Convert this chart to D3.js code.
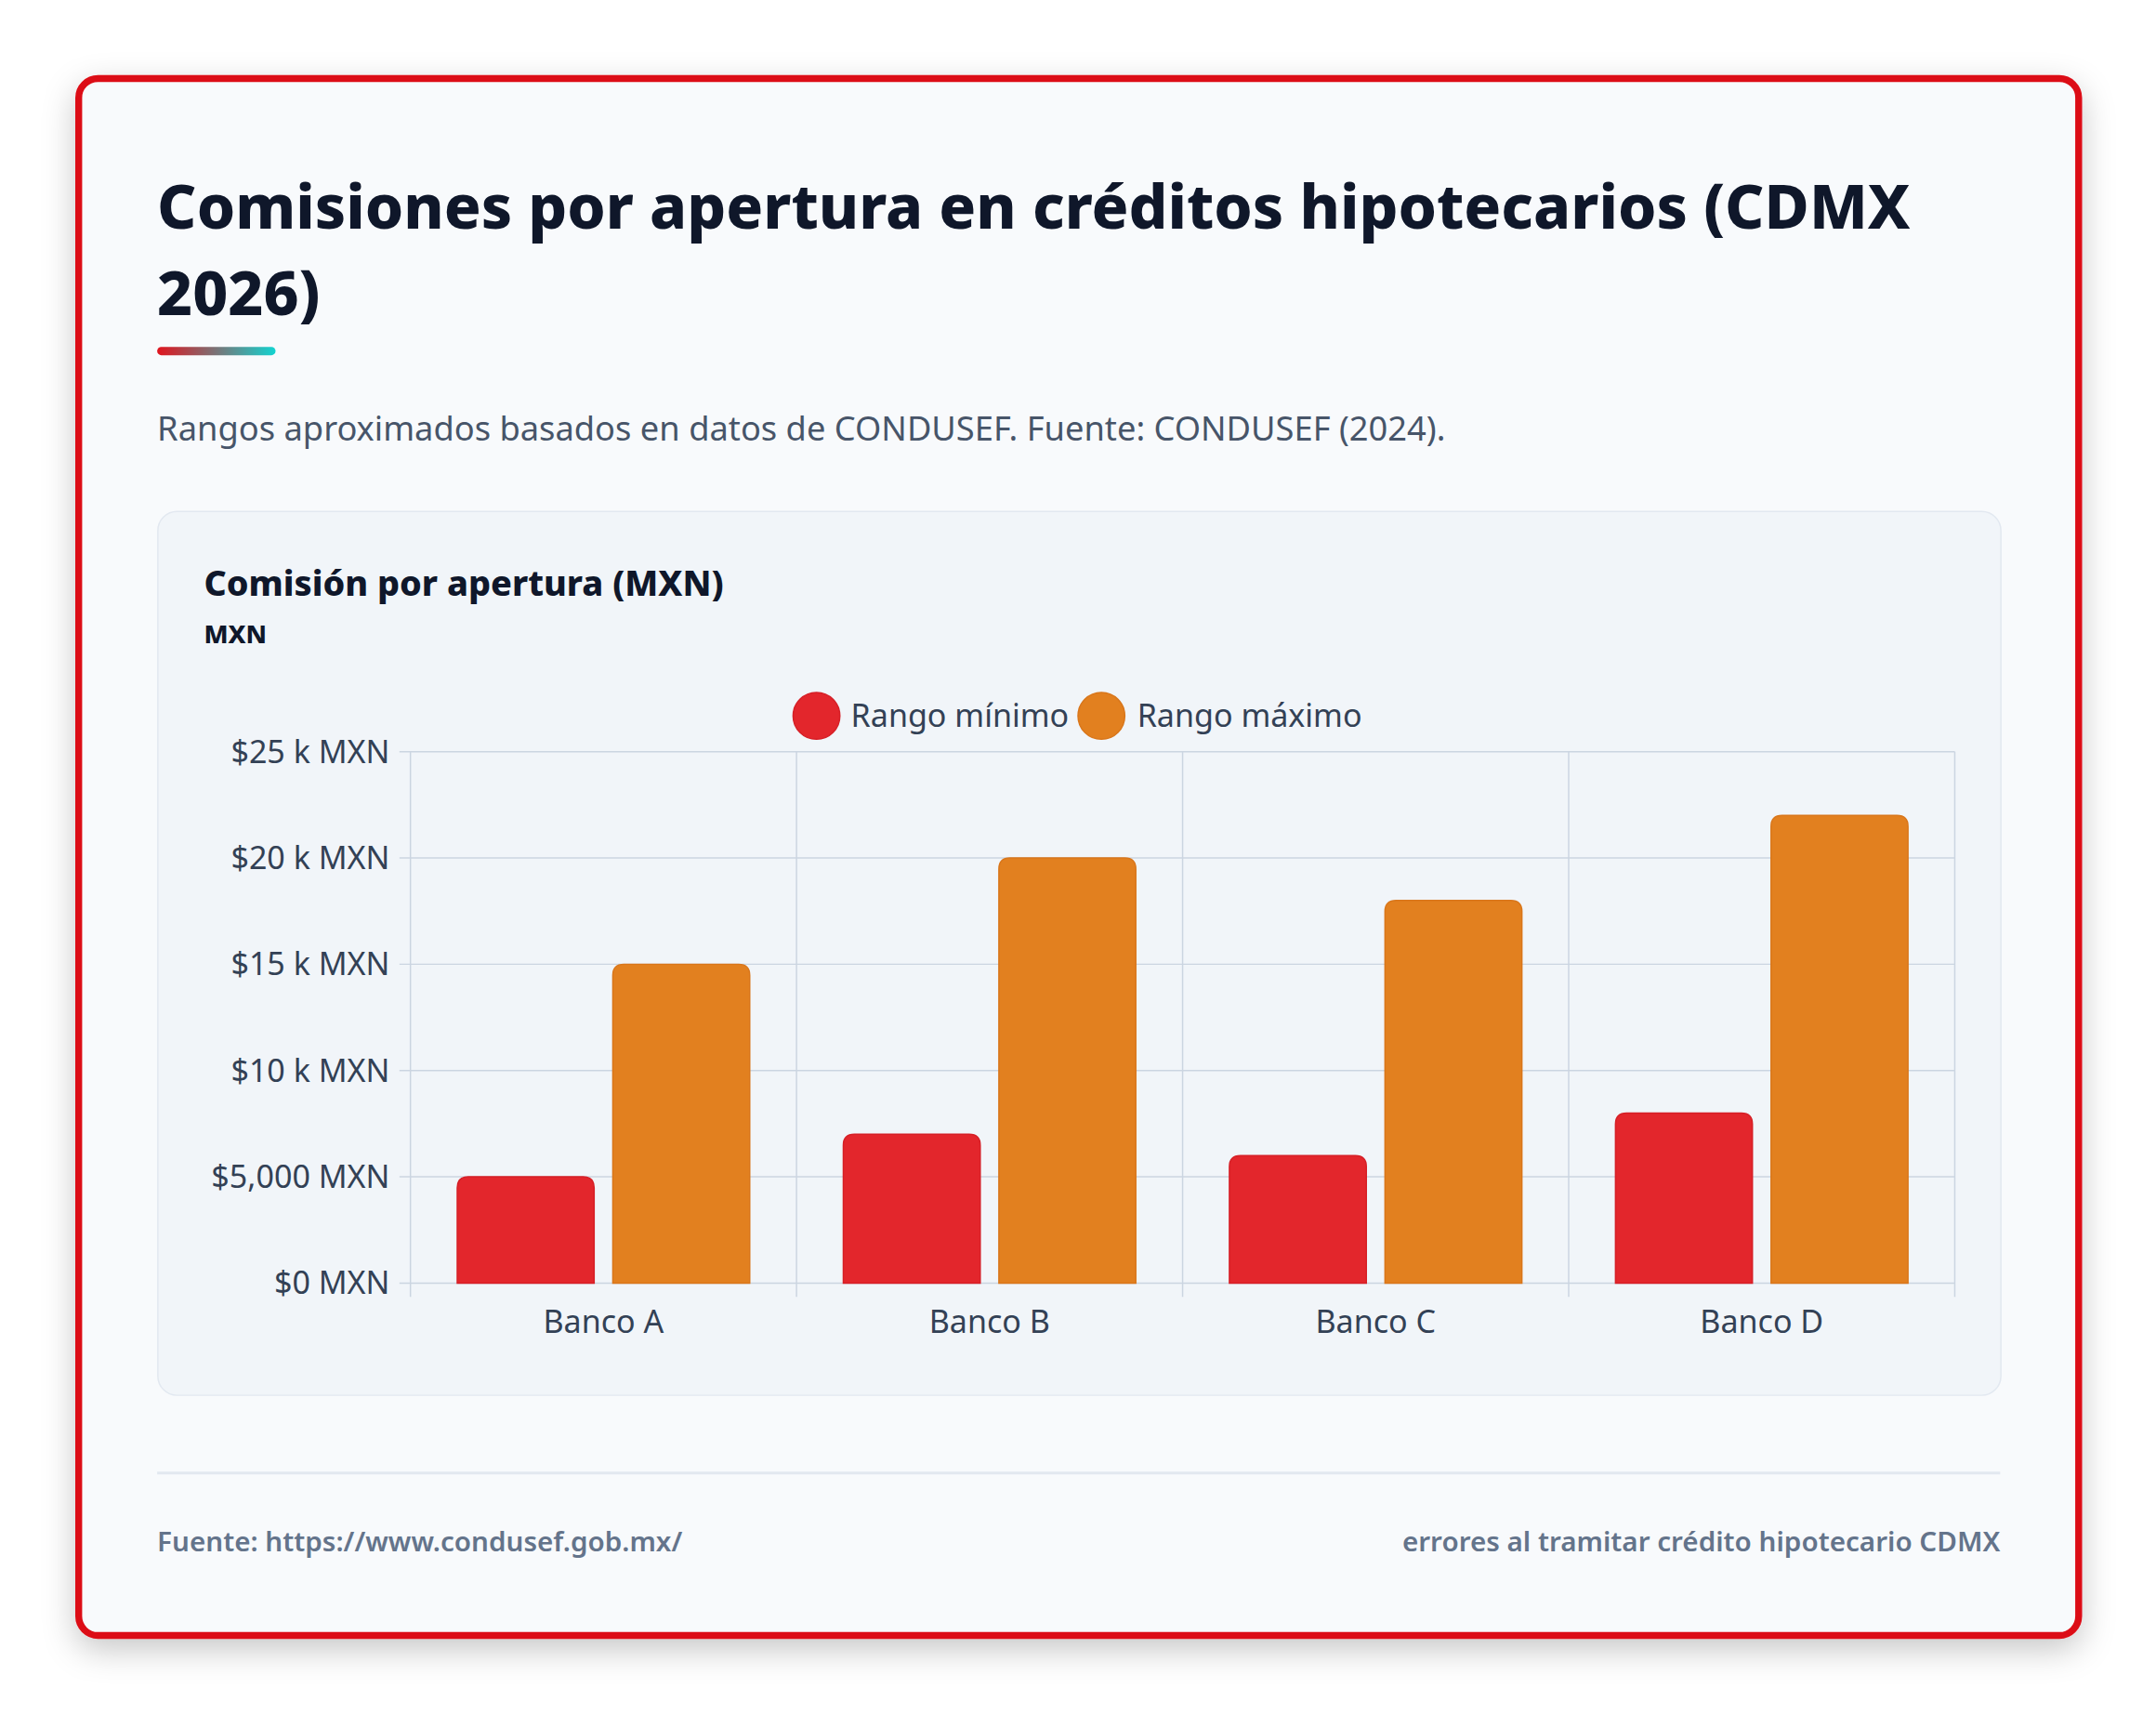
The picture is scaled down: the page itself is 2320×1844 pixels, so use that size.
<!DOCTYPE html>
<html><head><meta charset="utf-8">
<script src="https://cdn.jsdelivr.net/npm/d3@7"></script>
<style>html,body{margin:0;padding:0;background:#fff;}svg{display:block;font-family:"Noto Sans",sans-serif;}</style>
</head><body><svg id="c" width="2320" height="1844" viewBox="0 0 1566 1245"></svg>
<script>
const categories = ["Banco A","Banco B","Banco C","Banco D"];
const seriesNames = ["Rango mínimo","Rango máximo"];
const minValues = [5000,7000,6000,8000];
const maxValues = [15000,20000,18000,22000];
const yTicks = [0,5000,10000,15000,20000,25000];
const yTickLabels = ["$0 MXN","$5,000 MXN","$10 k MXN","$15 k MXN","$20 k MXN","$25 k MXN"];
const colors = ["#e3262c","#e2801f"];
const strokes = ["#d61f26","#d9761a"];

const svg = d3.select("#c");
const defs = svg.append("defs");
const f = defs.append("filter").attr("id","sh").attr("x","-10%").attr("y","-10%").attr("width","120%").attr("height","120%");
f.append("feDropShadow").attr("dx",0).attr("dy",8).attr("stdDeviation",12).attr("flood-color","#000").attr("flood-opacity",0.22);
const g = defs.append("linearGradient").attr("id","ug");
g.append("stop").attr("offset","0%").attr("stop-color","#e0141e");
g.append("stop").attr("offset","100%").attr("stop-color","#12d3d0");

svg.append("rect").attr("x",57).attr("y",57).attr("width",1453).attr("height",1131).attr("rx",14)
  .attr("fill","#f8fafc").attr("stroke","#dc0d15").attr("stroke-width",5).attr("filter","url(#sh)");
svg.append("text").attr("x",114).attr("y",166).attr("font-size",44.5).attr("font-weight",800).attr("fill","#0f172a").text("Comisiones por apertura en créditos hipotecarios (CDMX");
svg.append("text").attr("x",114).attr("y",229).attr("font-size",44.5).attr("font-weight",800).attr("fill","#0f172a").text("2026)");
svg.append("rect").attr("x",114).attr("y",252).attr("width",86).attr("height",6).attr("rx",3).attr("fill","url(#ug)");
svg.append("text").attr("x",114).attr("y",320).attr("font-size",24.5).attr("fill","#475569").text("Rangos aproximados basados en datos de CONDUSEF. Fuente: CONDUSEF (2024).");

svg.append("rect").attr("x",114.5).attr("y",371.5).attr("width",1339).attr("height",642).attr("rx",14).attr("fill","#f1f5f9").attr("stroke","#e2e8f0");
svg.append("text").attr("x",148).attr("y",433).attr("font-size",25.5).attr("font-weight",800).attr("fill","#0f172a").text("Comisión por apertura (MXN)");
svg.append("text").attr("x",148).attr("y",467).attr("font-size",18.5).attr("font-weight",800).attr("fill","#0f172a").text("MXN");

const leg = [{x:593,tx:618},{x:800,tx:826}];
seriesNames.forEach((n,i)=>{
  svg.append("circle").attr("cx",leg[i].x).attr("cy",520).attr("r",17).attr("fill",colors[i]).attr("stroke",strokes[i]);
  svg.append("text").attr("x",leg[i].tx).attr("y",528).attr("font-size",23).attr("fill","#334155").text(n);
});

const x = d3.scaleBand().domain(categories).range([298,1420]);
const y = d3.scaleLinear().domain([0,25000]).range([932,546]);
const grid = svg.append("g");
grid.selectAll("line.h").data(yTicks).join("line").attr("x1",290).attr("x2",1420).attr("y1",d=>y(d)).attr("y2",d=>y(d)).attr("stroke","#cbd5e1").attr("stroke-width",1);
const bounds = categories.map(c=>x(c)).concat([1420]);
grid.selectAll("line.v").data(bounds).join("line").attr("x1",d=>d).attr("x2",d=>d).attr("y1",546).attr("y2",942).attr("stroke","#cbd5e1");
svg.append("g").selectAll("text").data(yTicks).join("text").attr("x",283).attr("y",d=>y(d)+8).attr("text-anchor","end").attr("font-size",23).attr("fill","#334155").text((d,i)=>yTickLabels[i]);
svg.append("g").selectAll("text").data(categories).join("text").attr("x",d=>x(d)+x.bandwidth()/2).attr("y",968).attr("text-anchor","middle").attr("font-size",23).attr("fill","#334155").text(d=>d);

const inner = d3.scaleBand().domain([0,1]).range([34,x.bandwidth()-34]).paddingInner(0.12);
function bar(x0,w,yt,yb,r){return `M${x0},${yb}V${yt+r}Q${x0},${yt} ${x0+r},${yt}H${x0+w-r}Q${x0+w},${yt} ${x0+w},${yt+r}V${yb}Z`;}
[minValues,maxValues].forEach((vals,si)=>{
  svg.append("g").selectAll("path").data(vals).join("path")
    .attr("d",(v,i)=>bar(x(categories[i])+inner(si),inner.bandwidth(),y(v),y(0),8))
    .attr("fill",colors[si]).attr("stroke",strokes[si]).attr("stroke-width",1);
});

svg.append("line").attr("x1",114).attr("x2",1453).attr("y1",1070).attr("y2",1070).attr("stroke","#e2e8f0").attr("stroke-width",2);
svg.append("text").attr("x",114).attr("y",1127).attr("font-size",20).attr("font-weight",600).attr("fill","#64748b").text("Fuente: https://www.condusef.gob.mx/");
svg.append("text").attr("x",1453).attr("y",1127).attr("text-anchor","end").attr("font-size",20).attr("font-weight",600).attr("fill","#64748b").text("errores al tramitar crédito hipotecario CDMX");
</script></body></html>
